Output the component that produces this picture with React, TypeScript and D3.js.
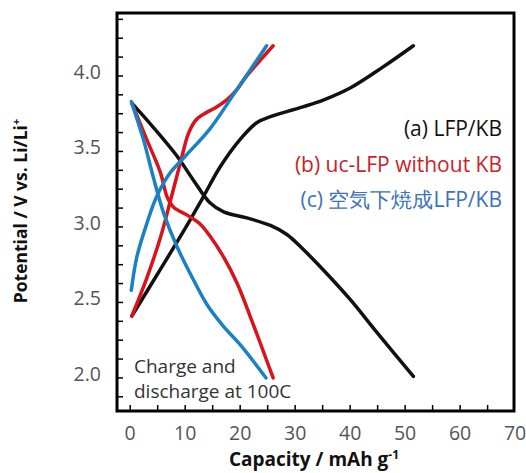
import React from "react";
import * as d3 from "d3";

// capacity (mAh/g), potential (V)
const chargeA = [[0.3, 2.41], [5, 2.69], [10, 2.99], [13, 3.18], [16.4, 3.4], [20, 3.58], [23, 3.69], [25.5, 3.73], [30.9, 3.79], [35.1, 3.84], [40, 3.92], [46, 4.06], [51.5, 4.2]];
const dischargeA = [[0.3, 3.82], [4.2, 3.66], [8.5, 3.47], [11.5, 3.31], [14.5, 3.16], [17, 3.1], [21.2, 3.06], [25.5, 3.01], [28.5, 2.95], [31.5, 2.85], [35, 2.72], [40, 2.52], [44.9, 2.3], [51.5, 2.01]];
const chargeB = [[0.3, 2.41], [3, 2.66], [5.5, 2.93], [7.5, 3.2], [9.3, 3.45], [10.6, 3.62], [12, 3.71], [13.5, 3.75], [15.5, 3.79], [17.5, 3.84], [19.4, 3.91], [21.2, 4.0], [26, 4.2]];
const dischargeB = [[0.3, 3.82], [3, 3.58], [5.5, 3.36], [6.7, 3.2], [7.9, 3.13], [10.3, 3.08], [12.7, 3.02], [14.5, 2.94], [17, 2.8], [19.4, 2.63], [21.8, 2.41], [26, 2.0]];
const chargeC = [[0.2, 2.58], [1.2, 2.8], [3, 3.02], [4.8, 3.2], [7.3, 3.36], [10.3, 3.48], [14.5, 3.65], [19.4, 3.91], [24.8, 4.2]];
const dischargeC = [[0.2, 3.83], [2.4, 3.58], [4.2, 3.33], [6.1, 3.09], [8.5, 2.87], [11.5, 2.65], [13.9, 2.49], [17, 2.34], [20, 2.22], [24.7, 2.0]];

const xTicks = [0, 10, 20, 30, 40, 50, 60, 70];
const yTicks = [2.0, 2.5, 3.0, 3.5, 4.0];
const legendLabels = ["(a) LFP/KB", "(b) uc-LFP without KB", "(c) 空気下焼成LFP/KB"];

const BLACK = "#111";
const RED = "#d7141a";
const BLUE = "#1a82c4";

const App = () => {
  const left = 117, right = 514, top = 13, bottom = 411;
  const x = d3.scaleLinear().domain([-2.4, 69.8]).range([left, right]);
  const y = d3.scaleLinear().domain([1.781, 4.417]).range([bottom, top]);

  const line = d3
    .line<number[]>()
    .x((d) => x(d[0]))
    .y((d) => y(d[1]))
    .curve(d3.curveCatmullRom.alpha(0.5));

  const minorX = d3.range(0, 70, 5);
  const minorY = d3.range(1.875, 4.42, 0.125);

  const series = [
    { data: chargeA, color: BLACK },
    { data: dischargeA, color: BLACK },
    { data: chargeB, color: RED },
    { data: dischargeB, color: RED },
    { data: chargeC, color: BLUE },
    { data: dischargeC, color: BLUE },
  ];
  const legendColors = [BLACK, "#c8232c", "#3b72b8"];
  const font = "'Open Sans', Lato, sans-serif";

  return (
    <svg width={526} height={473} style={{ position: "absolute", left: 0, top: 0 }} fontFamily={font}>
      <rect width={526} height={473} fill="#fff" />
      {series.map((s, i) => (
        <path key={i} d={line(s.data) || ""} fill="none" stroke={s.color} strokeWidth={3.5} strokeLinecap="round" strokeLinejoin="round" />
      ))}
      <rect x={left} y={top} width={right - left} height={bottom - top} fill="none" stroke="#000" strokeWidth={3} />
      {minorX.map((t) => (
        <line key={"xt" + t} x1={x(t)} x2={x(t)} y1={bottom} y2={bottom - 6} stroke="#000" strokeWidth={1.5} />
      ))}
      {minorY.map((t) => (
        <line key={"yt" + t} x1={left} x2={left + 6} y1={y(t)} y2={y(t)} stroke="#000" strokeWidth={1.5} />
      ))}
      {xTicks.map((t) => (
        <text key={"xl" + t} x={x(t)} y={440} textAnchor="middle" fontSize={19.5} fill="#555">{t}</text>
      ))}
      {yTicks.map((t) => (
        <text key={"yl" + t} x={101} y={y(t) + 3} textAnchor="end" fontSize={19.5} fill="#555">{t.toFixed(1)}</text>
      ))}
      <text x={314} y={466} textAnchor="middle" fontSize={19} fontWeight="bold" fill="#111">
        Capacity / mAh g<tspan dy={-7} fontSize={12}>-1</tspan>
      </text>
      <text transform="translate(27,211) rotate(-90)" textAnchor="middle" fontSize={17.5} fontWeight="bold" fill="#111">
        Potential / V vs. Li/Li<tspan dy={-7} fontSize={11}>+</tspan>
      </text>
      {legendLabels.map((l, i) => (
        <text key={l} x={502} y={136 + i * 35.5} textAnchor="end" fontSize={21} fill={legendColors[i]}>{l}</text>
      ))}
      <text x={134} y={373} fontSize={19} fill="#333">Charge and</text>
      <text x={134} y={398} fontSize={19} fill="#333">discharge at 100C</text>
    </svg>
  );
};

export default App;
